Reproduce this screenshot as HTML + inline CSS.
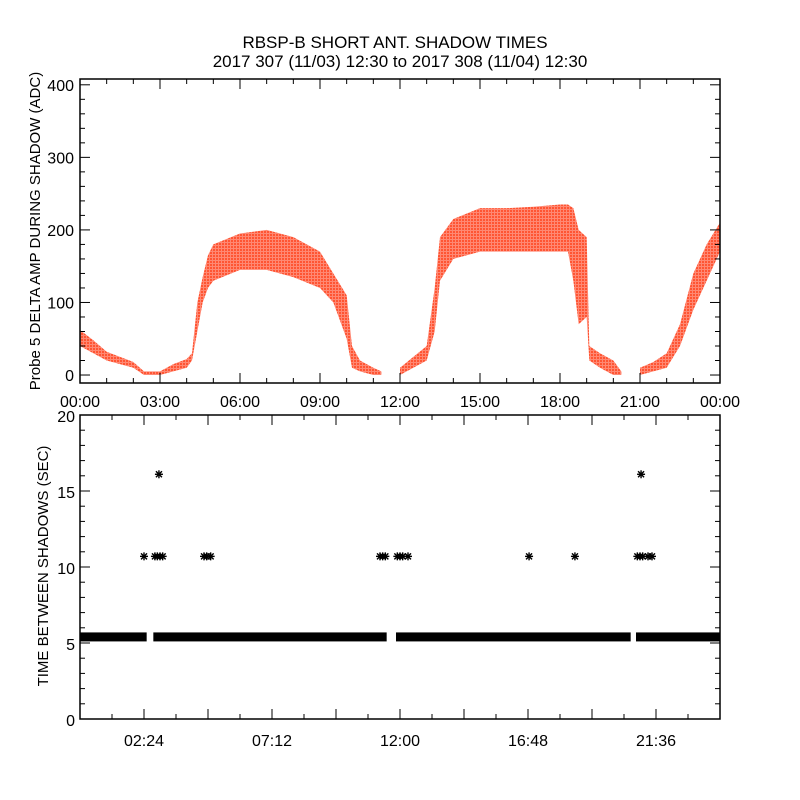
<!DOCTYPE html>
<html><head><meta charset="utf-8"><style>
html,body{margin:0;padding:0;background:#fff;}
svg{display:block;font-family:"Liberation Sans",sans-serif;}
</style></head><body>
<svg id="chart" width="800" height="800" viewBox="0 0 800 800">
<defs><pattern id="speck" width="3" height="3" patternUnits="userSpaceOnUse"><rect width="3" height="3" fill="#ff6a50"/><rect width="2" height="2" fill="#ff2a00"/></pattern></defs>
<rect width="800" height="800" fill="#fff"/>
<text x="395" y="48" font-size="17" text-anchor="middle">RBSP-B SHORT ANT. SHADOW TIMES</text>
<text x="400" y="67" font-size="17" text-anchor="middle">2017 307 (11/03) 12:30 to 2017 308 (11/04) 12:30</text>
<g id="top"></g><g id="bot"></g>
</svg>
<script>
// top panel: amplitude band (hours, low, high)
const ampTimes=[0,0.5,1,1.5,2,2.4,3.0,3.5,4.0,4.2,4.4,4.6,4.8,5,6,7,8,9,9.5,10,10.2,10.5,11,11.3];
const ampLow=[40,30,20,15,10,0,0,5,10,20,60,100,120,130,145,145,135,120,100,50,10,5,0,0];
const ampHigh=[62,48,32,25,18,5,5,15,22,30,100,135,165,180,195,200,190,170,140,110,40,20,10,5];
const amp2Times=[12,12.5,13,13.3,13.5,14,15,16,17,18,18.3,18.5,18.7,19,19.1,19.5,20,20.3];
const amp2Low=[0,10,20,60,130,160,170,170,170,170,170,130,70,80,20,10,0,0];
const amp2High=[10,25,40,120,190,215,230,230,232,235,235,230,200,190,40,30,20,5];
const amp3Times=[21,21.5,22,22.5,23,23.5,24];
const amp3Low=[0,5,10,40,90,130,170];
const amp3High=[10,18,30,70,140,180,210];
const topYTicks=[0,100,200,300,400];
const topXLabels=["00:00","03:00","06:00","09:00","12:00","15:00","18:00","21:00","00:00"];
// bottom panel
const baseSegs=[[0,2.5],[2.75,11.5],[11.85,20.65],[20.85,24]];
const baseValue=5.4;
const midTimes=[2.4,2.81,2.9,3.0,3.1,4.65,4.75,4.9,11.25,11.35,11.45,11.9,12.0,12.1,12.3,16.84,18.56,20.9,21.0,21.1,21.3,21.45];
const midValue=10.7;
const highTimes=[2.96,21.04];
const highValue=16.1;
const botYTicks=[0,5,10,15,20];
const botXLabels=["02:24","07:12","12:00","16:48","21:36"];

const NS="http://www.w3.org/2000/svg";
function mk(p,tag,at){const e=document.createElementNS(NS,tag);for(const k in at)e.setAttribute(k,at[k]);p.appendChild(e);return e;}
const L=80,R=720;
const xs=h=>L+(h/24)*(R-L);
// top
const T=document.getElementById('top');
const tT=79,tB=383,yMin=-11,yMax=408;
const ysT=v=>tB-(v-yMin)/(yMax-yMin)*(tB-tT);
function band(times,lo,hi,name){
  let pts=times.map((t,i)=>xs(t)+','+ysT(hi[i]));
  for(let i=times.length-1;i>=0;i--)pts.push(xs(times[i])+','+ysT(lo[i]));
  const p=mk(T,'polygon',{points:pts.join(' '),fill:'url(#speck)','fill-opacity':'0.8'});
  
  
}
band(ampTimes,ampLow,ampHigh,'amplitude-band-1');
band(amp2Times,amp2Low,amp2High,'amplitude-band-2');
band(amp3Times,amp3Low,amp3High,'amplitude-band-3');
const tf=mk(T,'rect',{x:L,y:tT,width:R-L,height:tB-tT,fill:'none',stroke:'#000','stroke-width':1.5});


for(let v=0;v<=400;v+=20){const y=ysT(v),len=v%100===0?10:5;
  mk(T,'line',{x1:L,x2:L+len,y1:y,y2:y,stroke:'#000'});mk(T,'line',{x1:R,x2:R-len,y1:y,y2:y,stroke:'#000'});}
topYTicks.forEach(v=>{const t=mk(T,'text',{x:L-6,y:ysT(v)+6,'font-size':16,'text-anchor':'end'});t.textContent=v;
  
  });
for(let h=0;h<=24;h+=1){const x=xs(h),len=h%3===0?10:5;
  mk(T,'line',{x1:x,x2:x,y1:tB,y2:tB-len,stroke:'#000'});mk(T,'line',{x1:x,x2:x,y1:tT,y2:tT+len,stroke:'#000'});}
topXLabels.forEach((s,i)=>{const t=mk(T,'text',{x:xs(i*3),y:407,'font-size':16,'text-anchor':'middle'});t.textContent=s;
  
  });
const ty=mk(T,'text',{x:0,y:0,'font-size':15,'text-anchor':'middle',transform:'translate(40,231) rotate(-90)'});ty.textContent='Probe 5 DELTA AMP DURING SHADOW (ADC)';


// bottom
const B=document.getElementById('bot');
const bT=415,bB=719;
const ysB=v=>bB-(v/20)*(bB-bT);
const bf=mk(B,'rect',{x:L,y:bT,width:R-L,height:bB-bT,fill:'none',stroke:'#000','stroke-width':1.5});


for(let v=0;v<=20;v+=1){const y=ysB(v),len=v%5===0?10:5;
  mk(B,'line',{x1:L,x2:L+len,y1:y,y2:y,stroke:'#000'});mk(B,'line',{x1:R,x2:R-len,y1:y,y2:y,stroke:'#000'});}
botYTicks.forEach(v=>{const t=mk(B,'text',{x:L-5,y:ysB(v)+7,'font-size':16,'text-anchor':'end'});t.textContent=v;
  
  });
for(let h=0;h<=24;h+=1.2){const x=xs(h),big=Math.round(h/1.2)%2===0;const len=big?10:5;
  mk(B,'line',{x1:x,x2:x,y1:bB,y2:bB-len,stroke:'#000'});mk(B,'line',{x1:x,x2:x,y1:bT,y2:bT+len,stroke:'#000'});}
botXLabels.forEach((s,i)=>{const t=mk(B,'text',{x:xs(2.4+i*4.8),y:746,'font-size':16,'text-anchor':'middle'});t.textContent=s;
  
  });
const by=mk(B,'text',{x:0,y:0,'font-size':15,'text-anchor':'middle',transform:'translate(48,566) rotate(-90)'});by.textContent='TIME BETWEEN SHADOWS (SEC)';


baseSegs.forEach(s=>{const r=mk(B,'rect',{x:xs(s[0]),y:ysB(baseValue)-4.5,width:xs(s[1])-xs(s[0]),height:9,fill:'#000'});
  
  });
function star(h,v){const x=xs(h),y=ysB(v);const g=mk(B,'g',{stroke:'#000','stroke-width':1.4});
  
  
  mk(g,'line',{x1:x-4,x2:x+4,y1:y,y2:y});mk(g,'line',{x1:x,x2:x,y1:y-4,y2:y+4});
  mk(g,'line',{x1:x-3,x2:x+3,y1:y-3,y2:y+3});mk(g,'line',{x1:x-3,x2:x+3,y1:y+3,y2:y-3});}
midTimes.forEach(h=>star(h,midValue));
highTimes.forEach(h=>star(h,highValue));
</script>
</body></html>
